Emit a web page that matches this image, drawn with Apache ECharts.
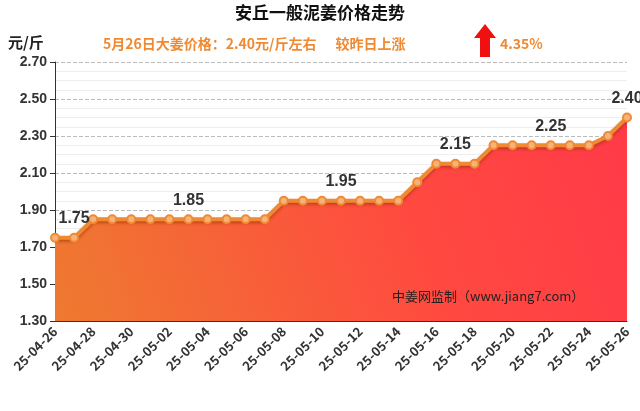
<!DOCTYPE html><html><head><meta charset="utf-8"><script src="https://cdn.jsdelivr.net/npm/echarts@6/dist/echarts.min.js"></script></head><body style="margin:0;background:#fff"><div id="c" style="width:640px;height:411px"></div><script>
const dates=['25-04-26','25-04-27','25-04-28','25-04-29','25-04-30','25-05-01','25-05-02','25-05-03','25-05-04','25-05-05','25-05-06','25-05-07','25-05-08','25-05-09','25-05-10','25-05-11','25-05-12','25-05-13','25-05-14','25-05-15','25-05-16','25-05-17','25-05-18','25-05-19','25-05-20','25-05-21','25-05-22','25-05-23','25-05-24','25-05-25','25-05-26'];
const prices=[1.75,1.75,1.85,1.85,1.85,1.85,1.85,1.85,1.85,1.85,1.85,1.85,1.95,1.95,1.95,1.95,1.95,1.95,1.95,2.05,2.15,2.15,2.15,2.25,2.25,2.25,2.25,2.25,2.25,2.30,2.40];
const labelIdx=[1,7,15,21,26,30];
const ch=echarts.init(document.getElementById('c'));
const F='"Noto Sans CJK SC",sans-serif';
ch.setOption({
 backgroundColor:'#fff',
 graphic:[
  {type:'text',left:'center',top:4,z:100,style:{text:'安丘一般泥姜价格走势',font:'bold 17px '+F,fill:'#111'}},
  {type:'text',left:103,top:37,z:100,style:{text:'5月26日大姜价格：2.40元/斤左右      较昨日上涨',font:'bold 14px '+F,fill:'#f08a32'}},
  {type:'text',left:500,top:37,z:100,style:{text:'4.35%',font:'bold 14px '+F,fill:'#f08a32'}},
  {type:'polygon',z:100,shape:{points:[[474,38],[485,24],[496,38],[490,38],[490,57],[480,57],[480,38]]},style:{fill:'#f01010'}},
  {type:'text',left:8,top:35,z:100,style:{text:'元/斤',font:'bold 15px '+F,fill:'#222'}},
  {type:'text',left:392,top:290,z:100,style:{text:'中姜网监制（www.jiang7.com）',font:'13px '+F,fill:'#222'}}
 ],
 grid:{left:55,right:13,top:62,bottom:90},
 xAxis:{type:'category',data:dates,boundaryGap:false,axisLine:{lineStyle:{color:'#333'}},axisTick:{show:false},
  axisLabel:{interval:1,rotate:45,color:'#333',fontWeight:'bold',fontSize:13,fontFamily:F},splitLine:{show:false}},
 yAxis:{type:'value',min:1.3,max:2.7,interval:0.2,axisLine:{show:true,lineStyle:{color:'#333'}},axisTick:{show:true},
  axisLabel:{color:'#333',fontWeight:'bold',fontSize:14,formatter:v=>v.toFixed(2)},
  splitLine:{lineStyle:{type:'dashed',color:'#bbb'}},
  minorTick:{show:false,splitNumber:4},minorSplitLine:{show:true,lineStyle:{color:'#eee'}}},
 series:[{type:'line',data:prices.map((v,i)=>({value:v,label:{show:labelIdx.includes(i)}})),
  symbol:'circle',symbolSize:8,itemStyle:{color:'#f7b27a',borderColor:'#f08a32',borderWidth:2},
  lineStyle:{color:'#f08a32',width:4,shadowColor:'rgba(150,40,0,0.5)',shadowBlur:3,shadowOffsetY:2},
  label:{position:'top',distance:6,color:'#333',fontWeight:'bold',fontSize:16,formatter:p=>p.value.toFixed(2)},
  areaStyle:{opacity:1,color:new echarts.graphic.LinearGradient(0,1,1,0,[{offset:0,color:'#ee7a30'},{offset:0.6,color:'#ff4a40'},{offset:1,color:'#ff3a48'}])}
 }]
});
</script></body></html>
